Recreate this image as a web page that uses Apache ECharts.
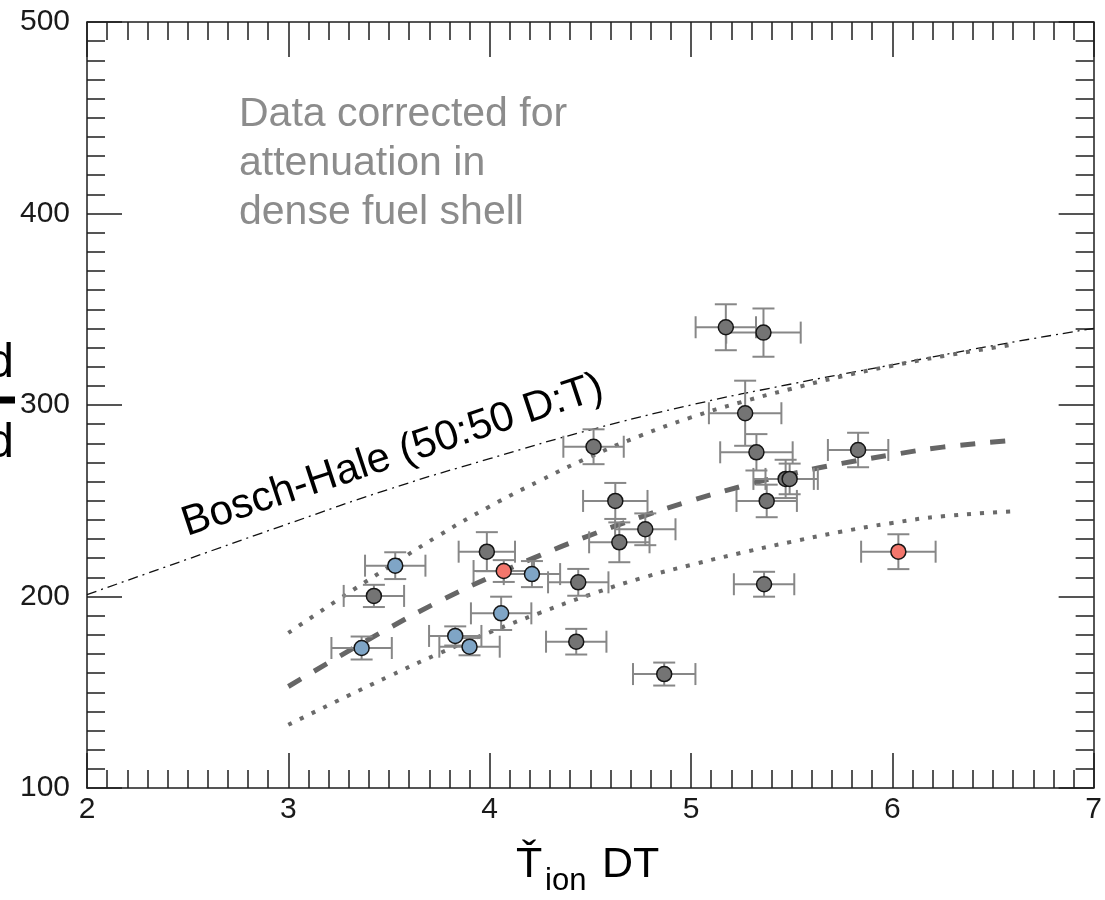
<!DOCTYPE html>
<html>
<head>
<meta charset="utf-8">
<script src="https://cdn.jsdelivr.net/npm/echarts@6/dist/echarts.min.js"></script>
<style>
html,body{margin:0;padding:0;background:#fff;}
#chart{width:1105px;height:900px;}
</style>
</head>
<body>
<div id="chart"></div>
<script>
// ---- data ----
// points: [Tion, yield ratio, x error, y error]
const grayPoints = [
  [3.425, 200.3, 0.15, 5.8],
  [3.986, 223.4, 0.14, 10.2],
  [4.44, 207.4, 0.15, 7],
  [4.43, 176.4, 0.15, 6.7],
  [4.516, 278.2, 0.15, 9.1],
  [4.624, 249.9, 0.16, 9.4],
  [4.644, 228.3, 0.15, 10.4],
  [4.773, 235.1, 0.15, 8.3],
  [4.867, 159.5, 0.155, 6],
  [5.173, 340.6, 0.15, 12],
  [5.36, 337.8, 0.185, 12.6],
  [5.269, 295.7, 0.18, 17],
  [5.325, 275.3, 0.18, 9.5],
  [5.83, 276.5, 0.15, 9],
  [5.47, 261.4, 0.16, 10],
  [5.49, 261.4, 0.12, 8],
  [5.376, 249.9, 0.15, 8.5],
  [5.363, 206.4, 0.15, 6.5]
];
const bluePoints = [
  [3.364, 173.1, 0.15, 6],
  [3.531, 216.1, 0.15, 7],
  [3.829, 179.4, 0.13, 5],
  [3.90, 173.8, 0.15, 4.5],
  [4.21, 211.7, 0.14, 6.8],
  [4.057, 191.2, 0.15, 8.7]
];
const redPoints = [
  [4.07, 213.3, 0.15, 5.7],
  [6.03, 223.4, 0.185, 9.1]
];
// Bosch-Hale curve
const bhX = [2, 2.5, 3, 3.5, 4, 4.5, 5, 5.5, 6, 6.5, 7];
const bhY = [201, 219.5, 238, 256, 272, 287, 300, 311, 321, 331, 340];
// fit and band
const fitX = [3.0, 3.25, 3.5, 3.75, 4.0, 4.25, 4.5, 4.75, 5.0, 5.25, 5.5, 5.75, 6.0, 6.25, 6.6];
const fitY = [153, 168.5, 183.5, 197.5, 210, 221.5, 232, 241.5, 250, 257.5, 264, 269.5, 274, 278, 281.5];
const upperY = [181, 198.5, 215.5, 232, 247, 260.5, 273, 284, 293.5, 301.5, 308.5, 315, 320.5, 325.5, 331.5];
const lowerY = [133, 145.8, 158.3, 170.3, 181.3, 191.5, 201, 209.5, 216.5, 222.8, 228.6, 233.9, 238.4, 241.9, 244.4];
const xTicks = [2, 3, 4, 5, 6, 7];
const yTicks = [100, 200, 300, 400, 500];
const noteLines = ['Data corrected for', 'attenuation in', 'dense fuel shell'];
const curveLabel = 'Bosch-Hale (50:50 D:T)';

// ---- chart ----
const FONT = '"Liberation Sans", Arial, Helvetica, sans-serif';
const chart = echarts.init(document.getElementById('chart'), null, {renderer: 'canvas'});
const zip = (xs, ys) => xs.map((x, i) => [x, ys[i]]);
const axisColor = '#1e1e1e';

function xAxisCfg(pos, labels) {
  return {
    type: 'value', position: pos, min: xTicks[0], max: xTicks[xTicks.length - 1], interval: 1,
    axisLine: {show: true, onZero: false, lineStyle: {color: axisColor, width: 1.5}},
    axisTick: {show: true, inside: true, length: 35, lineStyle: {color: axisColor, width: 1.5}},
    minorTick: {show: true, splitNumber: 10, length: 18, lineStyle: {color: axisColor, width: 1.5}},
    splitLine: {show: false},
    axisLabel: {show: labels, fontSize: 30, color: '#1a1a1a', fontFamily: FONT, margin: 7}
  };
}
function yAxisCfg(pos, labels) {
  return {
    type: 'value', position: pos, min: yTicks[0], max: yTicks[yTicks.length - 1], interval: 100,
    axisLine: {show: true, onZero: false, lineStyle: {color: axisColor, width: 1.5}},
    axisTick: {show: true, inside: true, length: 35, lineStyle: {color: axisColor, width: 1.5}},
    minorTick: {show: true, splitNumber: 10, length: 18, lineStyle: {color: axisColor, width: 1.5}},
    splitLine: {show: false},
    axisLabel: {show: labels, fontSize: 30, color: '#1a1a1a', fontFamily: FONT, margin: 17}
  };
}

function errRender(params, api) {
  const x = api.value(0), y = api.value(1), ex = api.value(2), ey = api.value(3);
  const l = api.coord([x - ex, y]), r = api.coord([x + ex, y]);
  const t = api.coord([x, y + ey]), b = api.coord([x, y - ey]);
  const cap = 11;
  const st = {stroke: '#878787', lineWidth: 2};
  const ln = (x1, y1, x2, y2) => ({type: 'line', shape: {x1, y1, x2, y2}, style: st});
  return {
    type: 'group',
    children: [
      ln(l[0], l[1], r[0], r[1]),
      ln(t[0], t[1], b[0], b[1]),
      ln(l[0], l[1] - cap, l[0], l[1] + cap),
      ln(r[0], r[1] - cap, r[0], r[1] + cap),
      ln(t[0] - cap, t[1], t[0] + cap, t[1]),
      ln(b[0] - cap, b[1], b[0] + cap, b[1])
    ]
  };
}

function scatter(data, color) {
  return {
    type: 'scatter', data: data.map(p => [p[0], p[1]]), symbol: 'circle', symbolSize: 15, z: 5,
    itemStyle: {color: color, borderColor: '#151515', borderWidth: 1.5, opacity: 1},
    emphasis: {disabled: true}, silent: true
  };
}

function curve(xs, ys, style) {
  return {type: 'line', data: zip(xs, ys), smooth: 0.5, showSymbol: false,
          z: 2, silent: true, lineStyle: style};
}

const option = {
  animation: false,
  backgroundColor: '#ffffff',
  grid: {left: 87, right: 10, top: 22, bottom: 112, containLabel: false},
  xAxis: [xAxisCfg('bottom', true), xAxisCfg('top', false)],
  yAxis: [yAxisCfg('left', true), yAxisCfg('right', false)],
  series: [
    curve(bhX, bhY, {color: '#111', width: 1.3, type: [10, 5, 2, 5]}),
    curve(fitX, upperY, {color: '#6a6a6a', width: 4, type: [4, 9], cap: 'butt'}),
    curve(fitX, lowerY, {color: '#6a6a6a', width: 4, type: [4, 9], cap: 'butt'}),
    curve(fitX, fitY, {color: '#666', width: 5, type: [15, 15], cap: 'butt'}),
    {type: 'custom', data: grayPoints.concat(bluePoints, redPoints), renderItem: errRender,
     encode: {x: 0, y: 1}, z: 3, silent: true},
    scatter(grayPoints, '#747474'),
    scatter(bluePoints, '#7fa5c6'),
    scatter(redPoints, '#f3766c')
  ],
  graphic: [
    {type: 'text', left: 239, top: 90, silent: true,
     style: {text: noteLines.join('\n'), font: '41px ' + FONT, fill: '#8c8c8c', lineHeight: 49}},
    {type: 'text', x: 190, y: 545, rotation: 0.32, silent: true,
     style: {text: curveLabel, font: '42px ' + FONT, fill: '#000', textAlign: 'left', textVerticalAlign: 'bottom'}},
    // x axis title: T-caron with subscript "ion", then DT
    {type: 'text', x: 516, y: 865, silent: true,
     style: {text: 'Ť', font: '43px ' + FONT, fill: '#000', textAlign: 'left', textVerticalAlign: 'middle'}},
    {type: 'text', x: 545, y: 881, silent: true,
     style: {text: 'ion', font: '31px ' + FONT, fill: '#000', textAlign: 'left', textVerticalAlign: 'middle'}},
    {type: 'text', x: 602, y: 865, silent: true,
     style: {text: 'DT', font: '43px ' + FONT, fill: '#000', textAlign: 'left', textVerticalAlign: 'middle'}},
    // y axis title (mostly cut off at the left edge)
    {type: 'text', x: 14, y: 364, silent: true,
     style: {text: 'Y measured', font: '48px ' + FONT, fill: '#000', textAlign: 'right', textVerticalAlign: 'middle'}},
    {type: 'line', silent: true, shape: {x1: -40, y1: 400, x2: 15, y2: 400},
     style: {stroke: '#000', lineWidth: 7}},
    {type: 'text', x: 14, y: 444, silent: true,
     style: {text: 'Y predicted', font: '48px ' + FONT, fill: '#000', textAlign: 'right', textVerticalAlign: 'middle'}}
  ]
};
chart.setOption(option);
</script>
</body>
</html>
